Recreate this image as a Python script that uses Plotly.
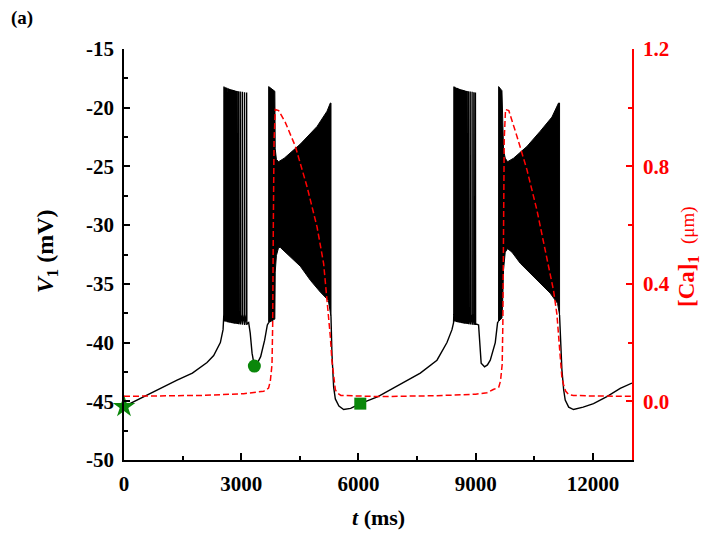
import plotly.graph_objects as go

# ------------------------------------------------------------------
# Data (t in ms, V in mV, Ca in uM)
# ------------------------------------------------------------------

# slow depolarising ramp before the first burst
ramp1_t = [0, 504, 1000, 1358, 1750, 1954, 2125, 2295, 2466, 2535, 2550]
ramp1_v = [-45.45, -44.6, -43.8, -43.2, -42.6, -42.1, -41.7, -41.1, -40.0, -38.9, -38.3]

# first (sparse) burst: spike times, peaks and AHP troughs
burst1_t = [2555, 2572, 2589, 2606, 2624, 2642, 2661, 2681, 2702, 2724, 2747,
            2771, 2797, 2825, 2856, 2890, 2928, 2972, 3024, 3080, 3135]
burst1_peak = [-18.2, -18.22, -18.25, -18.28, -18.3, -18.32, -18.35, -18.38, -18.4,
               -18.42, -18.45, -18.48, -18.5, -18.52, -18.55, -18.58, -18.6, -18.62,
               -18.65, -18.68, -18.7]
burst1_trough = [-38.2, -38.2, -38.2, -38.22, -38.24, -38.26, -38.28, -38.3, -38.3,
                 -38.32, -38.34, -38.36, -38.38, -38.4, -38.4, -38.42, -38.44, -38.46,
                 -38.48, -38.5, -38.5]

# hyperpolarising dip after the first burst
recov1_t = [3150, 3190, 3230, 3277, 3336, 3420, 3497, 3599, 3668, 3702]
recov1_v = [-38.4, -38.3, -39.2, -40.9, -42.0, -41.7, -41.2, -39.8, -38.5, -38.3]

# dense (tonic) burst drawn as its envelope
dense1_top_t = [3702, 3702, 3860, 3862, 3870, 3900, 3956, 4100, 4512, 4940, 5195, 5280, 5297]
dense1_top_v = [-38.3, -18.2, -18.6, -21.0, -23.5, -24.4, -24.6, -24.3, -23.1, -21.6, -20.3, -19.6, -19.6]
dense1_bot_t = [5297, 5229, 5024, 4770, 4512, 4171, 4000, 3956, 3900, 3870, 3862, 3860, 3702]
dense1_bot_v = [-37.8, -36.4, -35.7, -34.7, -33.5, -32.4, -31.9, -31.9, -32.6, -34.0, -36.5, -38.0, -38.3]

# repolarisation, silent phase and next ramp
ramp2_t = [5297, 5322, 5365, 5408, 5500, 5621, 5800, 6047, 6500, 7250, 7582,
           8009, 8265, 8393, 8434]
ramp2_v = [-37.8, -41.0, -43.8, -44.8, -45.4, -45.7, -45.6, -45.2, -44.6, -43.2,
           -42.6, -41.5, -40.0, -38.9, -38.3]

burst2_t = [8440, 8457, 8474, 8491, 8509, 8527, 8546, 8566, 8587, 8609, 8632,
            8656, 8682, 8710, 8741, 8775, 8813, 8857, 8905, 8950, 8990]
burst2_peak = burst1_peak
burst2_trough = burst1_trough

recov2_t = [9000, 9074, 9110, 9140, 9227, 9300, 9373, 9501, 9560, 9585]
recov2_v = [-38.4, -38.5, -40.0, -41.75, -42.06, -41.9, -41.5, -40.0, -38.3, -38.2]

dense2_top_t = [9585, 9587, 9672, 9688, 9713, 9756, 9816, 9969, 10311, 10652, 10951, 11120, 11146]
dense2_top_v = [-38.2, -18.2, -18.55, -21.05, -23.6, -24.3, -24.6, -24.3, -23.3, -22.0, -20.8, -19.6, -19.6]
dense2_bot_t = [11146, 11095, 10908, 10567, 10140, 9928, 9816, 9756, 9713, 9688, 9672, 9585]
dense2_bot_v = [-37.65, -36.66, -35.8, -34.7, -33.25, -32.3, -32.0, -32.3, -33.8, -36.7, -37.9, -38.2]

tail_t = [11146, 11180, 11206, 11250, 11291, 11380, 11504, 11750, 12015, 12357, 12698, 13000]
tail_v = [-37.65, -40.5, -42.3, -44.0, -44.9, -45.5, -45.7, -45.5, -45.2, -44.6, -43.9, -43.45]

# intracellular calcium
ca_t = [0, 1000, 2000, 3062, 3574, 3700, 3745, 3788, 3805, 3822, 3840, 3873, 3958,
        4128, 4384, 4684, 4940, 5109, 5195, 5237, 5280, 5322, 5365, 5408, 5450,
        5550, 6500, 8000, 9000, 9288, 9450, 9590, 9635, 9678, 9695, 9712, 9730,
        9763, 9848, 10055, 10311, 10567, 10823, 10993, 11078, 11120, 11163, 11206,
        11248, 11300, 11376, 11500, 12000, 13000]
ca_v = [0.017, 0.018, 0.020, 0.026, 0.034, 0.045, 0.069, 0.126, 0.264, 0.607, 0.89,
        0.994, 0.99, 0.95, 0.869, 0.731, 0.594, 0.469, 0.354, 0.298, 0.22, 0.137,
        0.08, 0.04, 0.029, 0.02, 0.016, 0.019, 0.024, 0.029, 0.04, 0.048, 0.069,
        0.126, 0.264, 0.607, 0.89, 0.994, 0.99, 0.903, 0.789, 0.651, 0.491, 0.377,
        0.297, 0.22, 0.137, 0.08, 0.057, 0.035, 0.023, 0.02, 0.018, 0.017]

# phase markers
star_pt = (0, -45.45)
circle_pt = (3336, -42.0)
square_pt = (6047, -45.2)

x_ticks = [0, 3000, 6000, 9000, 12000]
x_ticklabels = ['0', '3000', '6000', '9000', '12000']
y_ticks = [-50, -45, -40, -35, -30, -25, -20, -15]
y_ticklabels = ['-50', '-45', '-40', '-35', '-30', '-25', '-20', '-15']
y2_ticks = [0.0, 0.4, 0.8, 1.2]
y2_ticklabels = ['0.0', '0.4', '0.8', '1.2']

FONT = 'Liberation Serif'
GREEN = '#0a870a'
RED = '#ff0000'


def spikes(times, peaks, troughs, thr=-37.6):
    """Turn spike times/peaks/troughs into a polyline."""
    xs, ys = [], []
    for t, p, tr in zip(times, peaks, troughs):
        xs += [t, t + 3, t + 8]
        ys += [thr, p, tr]
    return xs, ys


b1x, b1y = spikes(burst1_t, burst1_peak, burst1_trough)
b2x, b2y = spikes(burst2_t, burst2_peak, burst2_trough)

line_x = (ramp1_t + b1x + recov1_t + [None] + ramp2_t + b2x + recov2_t
          + [None] + tail_t)
line_y = (ramp1_v + b1y + recov1_v + [None] + ramp2_v + b2y + recov2_v
          + [None] + tail_v)

fig = go.Figure()

fig.add_trace(go.Scatter(
    x=line_x, y=line_y, mode='lines',
    line=dict(color='black', width=1.4), showlegend=False,
))

for top_t, top_v, bot_t, bot_v in [(dense1_top_t, dense1_top_v, dense1_bot_t, dense1_bot_v),
                                   (dense2_top_t, dense2_top_v, dense2_bot_t, dense2_bot_v)]:
    fig.add_trace(go.Scatter(
        x=top_t + bot_t, y=top_v + bot_v, mode='lines',
        fill='toself', fillcolor='black',
        line=dict(color='black', width=1), showlegend=False,
    ))

fig.add_trace(go.Scatter(
    x=ca_t, y=ca_v, mode='lines', yaxis='y2',
    line=dict(color=RED, width=1.5, dash='6px,3px'), showlegend=False,
))

for pt, sym, size in [(star_pt, 'star', 17), (circle_pt, 'circle', 13), (square_pt, 'square', 12)]:
    fig.add_trace(go.Scatter(
        x=[pt[0]], y=[pt[1]], mode='markers', cliponaxis=False,
        marker=dict(symbol=sym, size=size, color=GREEN, line=dict(width=0)),
        showlegend=False,
    ))

tickfont = dict(family=FONT, size=21, color='black', weight='bold')

# the page body adds an 8px offset, so the margins are shifted to compensate
fig.update_layout(
    width=716, height=538,
    margin=dict(l=116, r=92, t=41, b=86),
    plot_bgcolor='white', paper_bgcolor='white',
    xaxis=dict(
        range=[0, 13000], tickmode='array', tickvals=x_ticks, ticktext=x_ticklabels,
        ticks='inside', ticklen=7, tickwidth=1.5, tickcolor='black',
        showline=True, linecolor='black', linewidth=1.8, mirror=False,
        showgrid=False, zeroline=False, tickfont=tickfont, ticklabelstandoff=4,
        minor=dict(ticks='inside', ticklen=4, tickwidth=1.5, tickcolor='black',
                   tick0=0, dtick=1500),
    ),
    yaxis=dict(
        range=[-50, -15], tickmode='array', tickvals=y_ticks, ticktext=y_ticklabels,
        ticks='inside', ticklen=6, tickwidth=1.5, tickcolor='black',
        showline=True, linecolor='black', linewidth=1.8, mirror=False,
        showgrid=False, zeroline=False, tickfont=tickfont, ticklabelstandoff=4,
        minor=dict(ticks='inside', ticklen=4, tickwidth=1.5, tickcolor='black',
                   tick0=-50, dtick=2.5),
    ),
    yaxis2=dict(
        range=[-0.2, 1.2], overlaying='y', side='right',
        tickmode='array', tickvals=y2_ticks, ticktext=y2_ticklabels,
        ticks='inside', ticklen=6, tickwidth=1.5, tickcolor=RED,
        showline=True, linecolor=RED, linewidth=1.8,
        showgrid=False, zeroline=False, ticklabelstandoff=5,
        tickfont=dict(family=FONT, size=21, color=RED, weight='bold'),
        minor=dict(ticks='inside', ticklen=4, tickwidth=1.5, tickcolor=RED,
                   tick0=0, dtick=0.2),
    ),
)

ann = dict(xref='paper', yref='paper', showarrow=False,
           font=dict(family=FONT, size=22, color='black'))
fig.add_annotation(ann, x=0.5, y=-0.141, xanchor='center', yanchor='middle',
                   text='<b><i>t</i> (ms)</b>')
fig.add_annotation(ann, x=-0.1516, y=0.508, xanchor='center', yanchor='middle',
                   textangle=-90, font=dict(family=FONT, size=24, color='black'),
                   text='<b><i>V</i><sub>1</sub> (mV)</b>')
fig.add_annotation(ann, x=1.110, y=0.496, xanchor='center', yanchor='middle',
                   textangle=-90, font=dict(family=FONT, size=23, color=RED),
                   text='<b>[Ca]<sub>1</sub></b>  <span style="font-size:19px">(μm)</span>')
fig.add_annotation(ann, x=-0.2008, y=1.0754, xanchor='center', yanchor='middle',
                   font=dict(family=FONT, size=19, color='black'), text='<b>(a)</b>')

fig.write_html("out.html")
